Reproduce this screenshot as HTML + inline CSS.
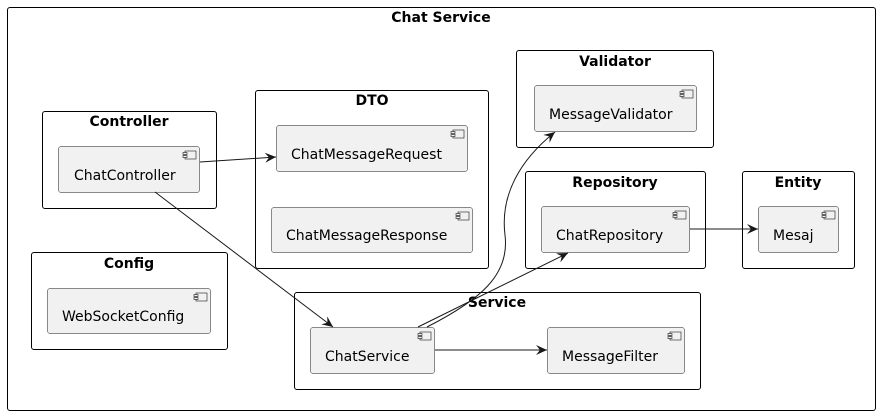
<!DOCTYPE html>
<html><head><style>body{margin:0;background:#fff}svg{display:block}text{font-family:"DejaVu Sans","Liberation Sans",sans-serif}</style></head><body>
<svg width="883" height="418" viewBox="0 0 883 418" xmlns="http://www.w3.org/2000/svg">
<defs>
<marker id="a" viewBox="0 0 12 10" refX="11" refY="5" markerWidth="12" markerHeight="10" markerUnits="userSpaceOnUse" orient="auto"><path d="M0,0 L11,5 L0,10 L4,5 Z" fill="#181818"/></marker>
<g id="ic"><rect x="-9" y="0" width="11" height="8" fill="#f1f1f1" stroke="#181818" stroke-width="0.6"/><rect x="-11" y="1.5" width="4" height="2" fill="#f1f1f1" stroke="#181818" stroke-width="0.6"/><rect x="-11" y="4.5" width="4" height="2" fill="#f1f1f1" stroke="#181818" stroke-width="0.6"/></g>
</defs>
<g fill="none" stroke="#000" stroke-width="1">
<rect x="7.5" y="7.5" width="868" height="403" rx="2.5"/>
<rect x="42.5" y="111.5" width="174" height="97" rx="2.5"/>
<rect x="255.5" y="90.5" width="233" height="178" rx="2.5"/>
<rect x="516.5" y="50.5" width="197" height="97" rx="2.5"/>
<rect x="525.5" y="171.5" width="180" height="97" rx="2.5"/>
<rect x="742.5" y="171.5" width="112" height="97" rx="2.5"/>
<rect x="31.5" y="252.5" width="196" height="97" rx="2.5"/>
<rect x="294.5" y="292.5" width="406" height="97" rx="2.5"/>
</g>
<g font-weight="bold" font-size="14" text-anchor="middle" fill="#000">
<text x="441" y="22">Chat Service</text>
<text x="129" y="126">Controller</text>
<text x="372" y="105">DTO</text>
<text x="615" y="66">Validator</text>
<text x="615" y="187">Repository</text>
<text x="798" y="187">Entity</text>
<text x="129" y="268">Config</text>
<text x="497" y="307">Service</text>
</g>
<g fill="#f1f1f1" stroke="#181818" stroke-width="0.5">
<rect x="58.5" y="146.5" width="141" height="46" rx="2.5"/>
<rect x="276.5" y="125.5" width="191" height="46" rx="2.5"/>
<rect x="271.5" y="207.5" width="201" height="45" rx="2.5"/>
<rect x="534.5" y="85.5" width="162" height="46" rx="2.5"/>
<rect x="541.5" y="206.5" width="148" height="46" rx="2.5"/>
<rect x="758.5" y="206.5" width="80" height="46" rx="2.5"/>
<rect x="47.5" y="288.5" width="163" height="45" rx="2.5"/>
<rect x="310.5" y="327.5" width="124" height="46" rx="2.5"/>
<rect x="547.5" y="327.5" width="137" height="46" rx="2.5"/>
</g>
<use href="#ic" x="194" y="151"/><use href="#ic" x="462" y="130"/><use href="#ic" x="467" y="212"/>
<use href="#ic" x="691" y="90"/><use href="#ic" x="684" y="211"/><use href="#ic" x="833" y="211"/>
<use href="#ic" x="205" y="293"/><use href="#ic" x="429" y="332"/><use href="#ic" x="679" y="332"/>
<g font-size="14" fill="#000">
<text x="74" y="180">ChatController</text>
<text x="291" y="159">ChatMessageRequest</text>
<text x="286" y="240">ChatMessageResponse</text>
<text x="549" y="119">MessageValidator</text>
<text x="556" y="240">ChatRepository</text>
<text x="773" y="240">Mesaj</text>
<text x="62" y="321">WebSocketConfig</text>
<text x="325" y="361">ChatService</text>
<text x="562" y="361">MessageFilter</text>
</g>
<g fill="none" stroke="#181818" stroke-width="1" marker-end="url(#a)">
<path d="M200,162 L276,157"/>
<path d="M155,192 L333,327"/>
<path d="M435,350 L547,350"/>
<path d="M418,327 L568,253"/>
<path d="M427,327 C480,300 510,275 505,235 C500,195 520,160 555,132"/>
<path d="M690,229 L758,229"/>
</g>
</svg>
</body></html>
